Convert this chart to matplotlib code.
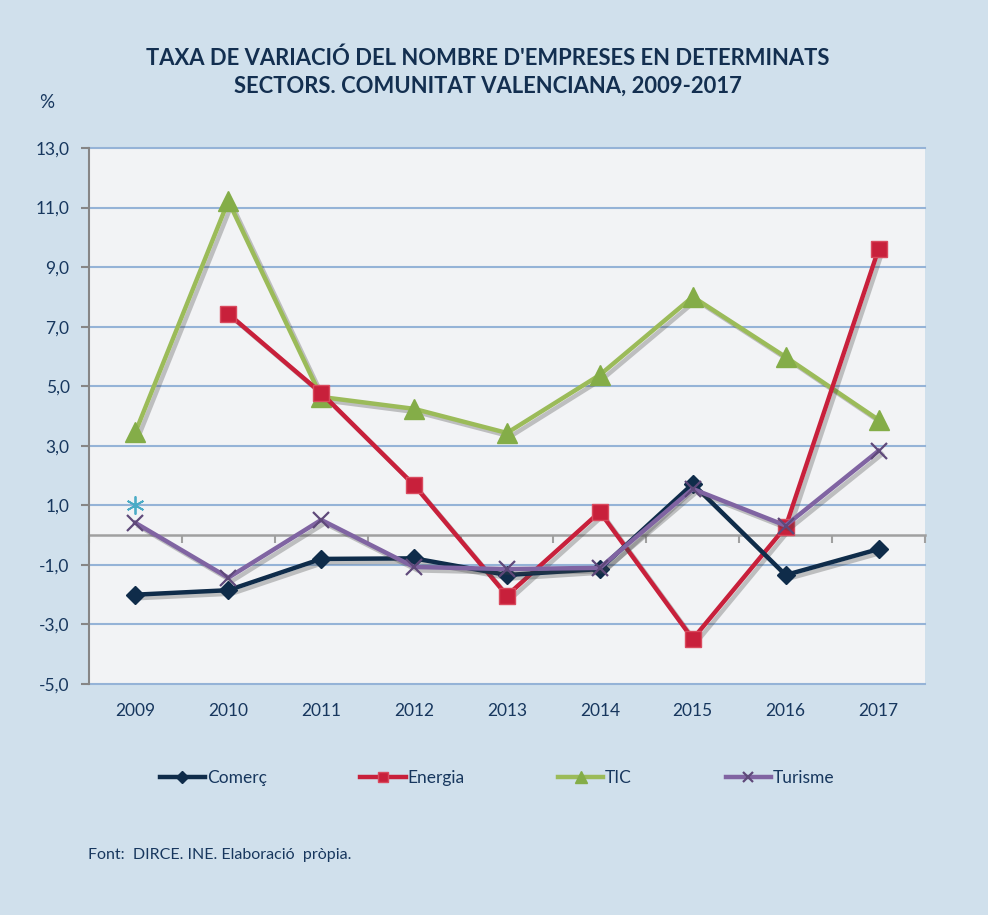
import numpy as np
import matplotlib.pyplot as plt
import matplotlib.patheffects as pe
from matplotlib.lines import Line2D
from matplotlib.ticker import FixedLocator

plt.rcParams['font.family'] = ['Lato', 'DejaVu Sans']

# Dades
anys = ['2009', '2010', '2011', '2012', '2013', '2014', '2015', '2016', '2017']
comerc = [-2.0, -1.85, -0.8, -0.78, -1.34, -1.14, 1.72, -1.34, -0.47]
energia = [np.nan, 7.43, 4.77, 1.68, -2.03, 0.78, -3.49, 0.28, 9.6]
tic = [3.46, 11.22, 4.64, 4.24, 3.43, 5.38, 8.0, 5.98, 3.87]
turisme = [0.41, -1.43, 0.51, -1.07, -1.14, -1.1, 1.55, 0.32, 2.83]
solt = [1.0]  # punt aillat en 2009
yticks = [-5, -3, -1, 1, 3, 5, 7, 9, 11, 13]

fons = '#d0e0ec'
text_col = '#17375e'

fig = plt.figure(figsize=(9.88, 9.15), dpi=100, facecolor=fons)
ax = fig.add_axes([89/988, 1 - 684/915, 836/988, 536/915])
ax.set_facecolor('#f2f3f5')

x = np.arange(len(anys))
ombra = [pe.SimpleLineShadow(offset=(2.5, -2.5), alpha=0.3, shadow_color='#444444'), pe.Normal()]

series = [
    (comerc, 'Comerç', dict(color='#0f2c4a', marker='D', ms=9), 5),
    (energia, 'Energia', dict(color='#c8203b', marker='s', ms=11, mec='#d94a5e'), 4),
    (tic, 'TIC', dict(color='#9bbb59', marker='^', ms=14, mfc='#84ad48', mec='#84ad48'), 3),
    (turisme, 'Turisme', dict(color='#8064a2', marker='x', ms=12, mew=1.6, mec='#5f497a'), 6),
]
handles = []
for vals, nom, st, z in series:
    ax.plot(x, vals, color=st['color'], lw=3.2, path_effects=ombra, zorder=z)
    ax.plot(x, vals, ls='none', zorder=z + 0.5, **st)
    hst = dict(st)
    hst['ms'] = st['ms'] * 0.65
    handles.append(Line2D([], [], lw=3.2, label=nom, **hst))

ax.plot(x[:1], solt, ls='none', marker=(6, 2, 0), ms=13, mew=1.3, color='#4bacc6', zorder=7)

ax.set_xlim(-0.5, len(anys) - 0.5)
ax.set_ylim(-5, 13)
ax.set_yticks(yticks)
ax.set_yticklabels([f'{v:.1f}'.replace('.', ',') for v in yticks])
ax.yaxis.grid(True, color='#95b3d7', lw=1.5)
for g in ax.get_ygridlines():
    g.set_clip_on(False)
ax.set_axisbelow(True)

for s in ['top', 'right']:
    ax.spines[s].set_visible(False)
ax.spines['left'].set_color('#868686')
ax.spines['left'].set_linewidth(1.5)
ax.spines['bottom'].set_position(('data', 0))
ax.spines['bottom'].set_color('#a0a0a0')
ax.spines['bottom'].set_linewidth(1.8)
ax.spines['bottom'].set_zorder(1)

ax.tick_params(axis='y', colors='#868686', length=6, width=1.5, labelcolor=text_col,
               labelsize=12.5, pad=8)
ax.xaxis.set_major_locator(FixedLocator(x))
ax.xaxis.set_minor_locator(FixedLocator(np.arange(-0.5, len(anys), 1.0)))
ax.tick_params(axis='x', which='major', length=0, labelbottom=False)
ax.tick_params(axis='x', which='minor', length=6, width=1.5, color='#a0a0a0', direction='out')

sec = ax.secondary_xaxis(0)
sec.set_xticks(x)
sec.set_xticklabels(anys)
sec.tick_params(length=0, labelsize=12.5, labelcolor=text_col, pad=14)
sec.spines['bottom'].set_visible(False)

fig.text(0.494, 1 - 72/915, "TAXA DE VARIACIÓ DEL NOMBRE D'EMPRESES EN DETERMINATS\nSECTORS. COMUNITAT VALENCIANA, 2009-2017",
         ha='center', va='center', fontsize=15.8, fontweight='bold', color='#132f50', linespacing=1.35)
fig.text(47/988, 1 - 103/915, '%', ha='center', va='center', fontsize=13.5, color=text_col)

fig.legend(handles=handles, loc='center', bbox_to_anchor=(0.503, 1 - 778/915), ncol=4,
           frameon=False, fontsize=12.5, labelcolor=text_col, handlelength=2.6,
           handletextpad=0.1, columnspacing=5.4)

fig.text(88/988, 1 - 855/915, 'Font:  DIRCE. INE. Elaboració  pròpia.', ha='left', va='center',
         fontsize=11.5, color=text_col)

fig.savefig('out.png', dpi=100, facecolor=fons)
